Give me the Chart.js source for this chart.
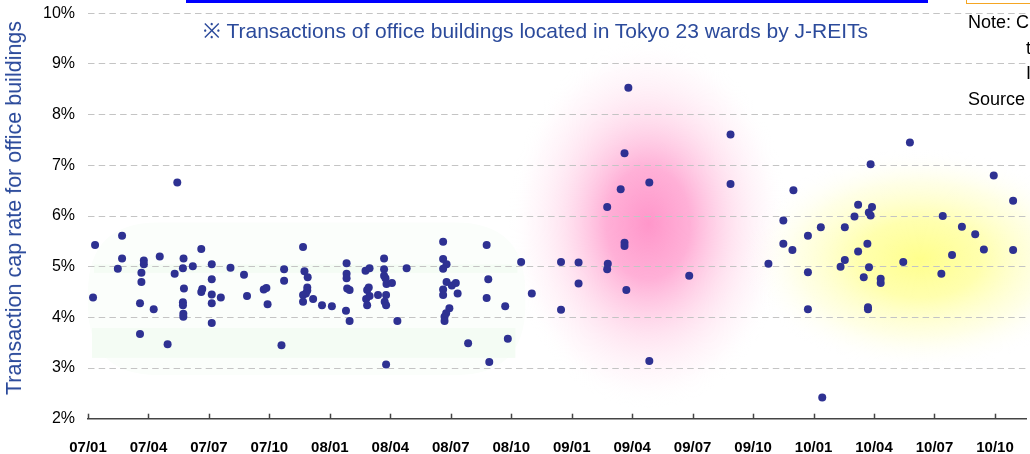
<!DOCTYPE html>
<html>
<head>
<meta charset="utf-8">
<script src="https://cdn.jsdelivr.net/npm/chart.js@4"></script>
<style>
  html, body { margin: 0; padding: 0; overflow: hidden; background: #fff; }
  #wrap { position: relative; width: 1030px; height: 454px; overflow: hidden; }
  #myChart { position: absolute; left: 0; top: 0; }
  .note { position: absolute; font-family: "Liberation Sans", Arial, sans-serif; white-space: nowrap; }
  #ytitle { left: 14px; top: 208px; font-size: 21.5px; line-height: 24px; color: #2b4a9b;
            transform: translate(-50%, -50%) rotate(-90deg); }
</style>
</head>
<body>
<div id="wrap">
  <canvas id="myChart" width="1030" height="454"></canvas>
  <div class="note" style="left:186px; top:0; width:742px; height:3px; background:#0000ff;"></div>
  <div class="note" style="left:966px; top:-2px; width:80px; height:5px; border-left:1.5px solid #f5a623; border-bottom:1.5px solid #f5a623;"></div>
  <div class="note" style="left:203px; top:19px; font-size:21px; line-height:24px; color:#2b4a9b;">※ Transactions of office buildings located in Tokyo 23 wards by J-REITs</div>
  <div class="note" style="left:968px; top:11px; font-size:18px; line-height:22px; color:#000;">Note: C</div>
  <div class="note" style="left:1026px; top:37px; font-size:18px; line-height:22px; color:#000;">t</div>
  <div class="note" style="left:1026px; top:62px; font-size:18px; line-height:22px; color:#000;">I</div>
  <div class="note" style="left:968px; top:88px; font-size:18px; line-height:22px; color:#000;">Source</div>
  <div class="note" id="ytitle">Transaction cap rate for office buildings</div>
</div>
<script>
// x = months since Jan 2007, y = cap rate (%)
var months2007 = [0.35, 0.25, 1.69, 1.69, 1.48, 4.43, 2.77, 2.77, 2.65, 2.65, 2.58, 2.58, 3.26, 3.56, 3.95, 4.30,
    4.74, 4.71, 4.76, 4.71, 4.71, 4.73, 4.73, 5.20, 5.62, 5.67, 5.62, 6.14, 6.14, 6.14, 6.14, 6.14, 6.59, 7.07,
    7.74, 7.89, 8.72, 8.85, 8.91, 9.60, 9.73, 9.73, 10.67, 10.74, 10.90, 10.88, 10.88, 10.81, 10.67, 10.67, 11.17,
    11.61, 12.10];
var rates2007 = [5.43, 4.39, 5.61, 5.16, 4.96, 6.66, 5.12, 5.05, 4.88, 4.70, 4.28, 3.67, 4.16, 5.20, 3.47, 4.86,
    5.16, 4.97, 4.57, 4.30, 4.24, 4.07, 4.01, 5.01, 5.35, 4.56, 4.50, 5.05, 4.75, 4.45, 4.28, 3.89, 4.39, 4.98,
    4.84, 4.42, 4.55, 4.58, 4.26, 3.45, 4.95, 4.72, 5.39, 4.91, 4.79, 4.59, 4.53, 4.47, 4.44, 4.31, 4.36,
    4.24, 4.22];

var months2008 = [12.83, 12.83, 12.83, 12.86, 12.98, 12.80, 12.98, 13.77, 13.97, 13.93, 13.85, 13.80, 13.85, 13.97,
    14.39, 14.69, 14.69, 14.69, 14.76, 14.81, 15.08, 14.79, 14.72, 14.79, 15.35, 14.79, 15.81, 17.62, 17.62, 17.79,
    17.62, 17.79, 18.05, 18.25, 17.62, 17.62, 18.34, 17.93, 17.77, 17.69, 17.69, 18.86, 19.78, 19.86, 19.78, 19.91,
    20.70, 20.83, 21.49, 22.02];
var rates2008 = [5.07, 4.86, 4.77, 4.57, 4.54, 4.13, 3.93, 4.92, 4.97, 4.59, 4.54, 4.36, 4.24, 4.42,
    4.44, 5.16, 4.95, 4.82, 4.77, 4.66, 4.68, 4.44, 4.31, 4.24, 3.93, 3.07, 4.97, 5.49, 5.15, 5.05,
    4.96, 4.70, 4.63, 4.68, 4.55, 4.44, 4.47, 4.18, 4.08, 4.01, 3.93, 3.49, 5.43, 4.75, 4.38, 3.12,
    4.22, 3.58, 5.09, 4.47];

var months2009 = [23.47, 23.47, 24.34, 24.34, 25.76, 25.79, 25.76, 26.43, 26.62, 26.81, 26.62, 26.62, 26.71, 27.85,
    27.85, 29.83, 31.88, 31.88, 33.76];
var rates2009 = [5.09, 4.15, 5.08, 4.67, 6.18, 5.06, 4.95, 6.53, 7.24, 8.53, 5.47, 5.41, 4.54, 6.66,
    3.14, 4.82, 7.61, 6.63, 5.06];

var months2010 = [34.50, 34.50, 34.95, 35.00, 35.72, 35.72, 35.72, 36.36, 36.43, 37.34, 37.55, 37.55, 38.03, 38.21,
    38.21, 38.49, 38.67, 38.70, 38.70, 38.74, 38.75, 38.83, 38.83, 38.90, 39.33, 39.33, 40.45, 40.78, 42.34, 42.41,
    42.87, 43.36, 44.02, 44.45, 44.94, 45.90, 45.90];
var rates2010 = [5.91, 5.45, 5.33, 6.51, 5.61, 4.89, 4.16, 5.78, 2.42, 5.00, 5.13, 5.78, 5.99, 6.22,
    5.30, 4.79, 5.45, 4.20, 4.16, 6.07, 4.99, 7.02, 6.01, 6.18, 4.76, 4.68, 5.09, 7.45, 4.86, 6.00,
    5.23, 5.79, 5.64, 5.34, 6.80, 6.30, 5.33];

var quarterLabels = ['07/01', '07/04', '07/07', '07/10', '08/01', '08/04', '08/07', '08/10',
    '09/01', '09/04', '09/07', '09/10', '10/01', '10/04', '10/07', '10/10'];
var quarterMonths = [0, 3, 6, 9, 12, 15, 18, 21, 24, 27, 30, 33, 36, 39, 42, 45];
var rateTicks = [2, 3, 4, 5, 6, 7, 8, 9, 10];

var fontFamily = '"Liberation Sans", Arial, sans-serif';

// build the point list
var points = [];
function addPoints(xs, ys) {
    for (var i = 0; i < xs.length; i++) {
        points.push({ x: xs[i], y: ys[i] });
    }
}
addPoints(months2007, rates2007);
addPoints(months2008, rates2008);
addPoints(months2009, rates2009);
addPoints(months2010, rates2010);

// draws an elliptical soft glow
function glow(ctx, cx, cy, rx, ry, stops) {
    ctx.save();
    ctx.translate(cx, cy);
    ctx.scale(1, ry / rx);
    var g = ctx.createRadialGradient(0, 0, 0, 0, 0, rx);
    stops.forEach(function (s) { g.addColorStop(s[0], s[1]); });
    ctx.fillStyle = g;
    ctx.fillRect(-rx, -rx, rx * 2, rx * 2);
    ctx.restore();
}

function pill(ctx, l, t, r, b, rad) {
    ctx.beginPath();
    ctx.moveTo(l + rad, t);
    ctx.lineTo(r - rad, t);
    ctx.quadraticCurveTo(r, t, r, t + rad);
    ctx.lineTo(r, b - rad);
    ctx.quadraticCurveTo(r, b, r - rad, b);
    ctx.lineTo(l + rad, b);
    ctx.quadraticCurveTo(l, b, l, b - rad);
    ctx.lineTo(l, t + rad);
    ctx.quadraticCurveTo(l, t, l + rad, t);
    ctx.closePath();
}

var backdrop = {
    id: 'backdrop',
    beforeDraw: function (chart) {
        var ctx = chart.ctx, xs = chart.scales.x, ys = chart.scales.y;

        // very pale green area behind 2007-2008
        var l = xs.getPixelForValue(0), r = xs.getPixelForValue(21.7);
        ctx.save();
        ctx.fillStyle = '#fbfefb';
        pill(ctx, l, ys.getPixelForValue(5.87), r, ys.getPixelForValue(2.86), 70);
        ctx.fill();
        ctx.fillStyle = '#f4fcf4';
        ctx.fillRect(l + 6, ys.getPixelForValue(5.04), r - l - 14, ys.getPixelForValue(4.88) - ys.getPixelForValue(5.04));
        ctx.fillRect(l + 4, ys.getPixelForValue(3.79), r - l - 14, ys.getPixelForValue(3.2) - ys.getPixelForValue(3.79));
        ctx.restore();

        // pink glow (2009)
        glow(ctx, xs.getPixelForValue(27.8), ys.getPixelForValue(5.85), 140, 185, [
            [0, 'rgba(255,150,202,1)'],
            [0.3, 'rgba(255,162,208,0.85)'],
            [0.6, 'rgba(255,200,226,0.5)'],
            [0.85, 'rgba(255,232,243,0.25)'],
            [1, 'rgba(255,255,255,0)']
        ]);

        // yellow glow (2010)
        glow(ctx, xs.getPixelForValue(41.3), ys.getPixelForValue(5.15), 175, 110, [
            [0, 'rgba(255,255,140,1)'],
            [0.35, 'rgba(255,255,160,0.85)'],
            [0.7, 'rgba(255,255,200,0.45)'],
            [1, 'rgba(255,255,255,0)']
        ]);
    },
    afterDraw: function (chart) {
        // small upward tick marks on the x axis
        var ctx = chart.ctx, xs = chart.scales.x, bottom = chart.chartArea.bottom;
        ctx.save();
        ctx.strokeStyle = '#444';
        ctx.lineWidth = 1.5;
        quarterMonths.forEach(function (m) {
            var px = Math.round(xs.getPixelForValue(m)) + 0.5;
            ctx.beginPath();
            ctx.moveTo(px, bottom);
            ctx.lineTo(px, bottom - 5);
            ctx.stroke();
        });
        ctx.restore();
    }
};

var ctx = document.getElementById('myChart').getContext('2d');
var myChart = new Chart(ctx, {
    type: 'scatter',
    data: {
        datasets: [{
            label: 'Cap rate',
            data: points,
            backgroundColor: '#2e3192',
            borderColor: '#2e3192',
            borderWidth: 0,
            pointRadius: 4
        }]
    },
    options: {
        responsive: false,
        animation: false,
        layout: { padding: { top: 13.3, right: 0, left: 0, bottom: 0 } },
        plugins: {
            legend: { display: false },
            tooltip: { enabled: false }
        },
        scales: {
            x: {
                type: 'linear',
                min: 0,
                max: 46.54,
                afterBuildTicks: function (scale) {
                    scale.ticks = quarterMonths.map(function (m) { return { value: m }; });
                },
                afterFit: function (scale) { scale.height = 35.3; },
                grid: { display: false },
                border: { display: true, color: '#444', width: 1.5 },
                ticks: {
                    autoSkip: false,
                    maxRotation: 0,
                    padding: 12,
                    color: '#000',
                    font: { family: fontFamily, size: 15, weight: 'bold' },
                    callback: function (value, index) { return quarterLabels[index]; }
                }
            },
            y: {
                min: 2,
                max: 10,
                afterBuildTicks: function (scale) {
                    scale.ticks = rateTicks.map(function (v) { return { value: v }; });
                },
                afterFit: function (scale) {
                    scale.width = 88;
                    // don't let the label padding push the plot down
                    scale.paddingTop = 0;
                    scale.paddingBottom = 0;
                },
                grid: {
                    drawTicks: false,
                    lineWidth: 1,
                    color: function (c) { return c.tick && c.tick.value === 2 ? 'rgba(0,0,0,0)' : '#c4c4c4'; }
                },
                border: { display: false, dash: [6.5, 4.2] },
                ticks: {
                    padding: 13,
                    color: '#000',
                    font: { family: fontFamily, size: 16 },
                    callback: function (value) { return value + '%'; }
                }
            }
        }
    },
    plugins: [backdrop]
});
</script>
</body>
</html>
